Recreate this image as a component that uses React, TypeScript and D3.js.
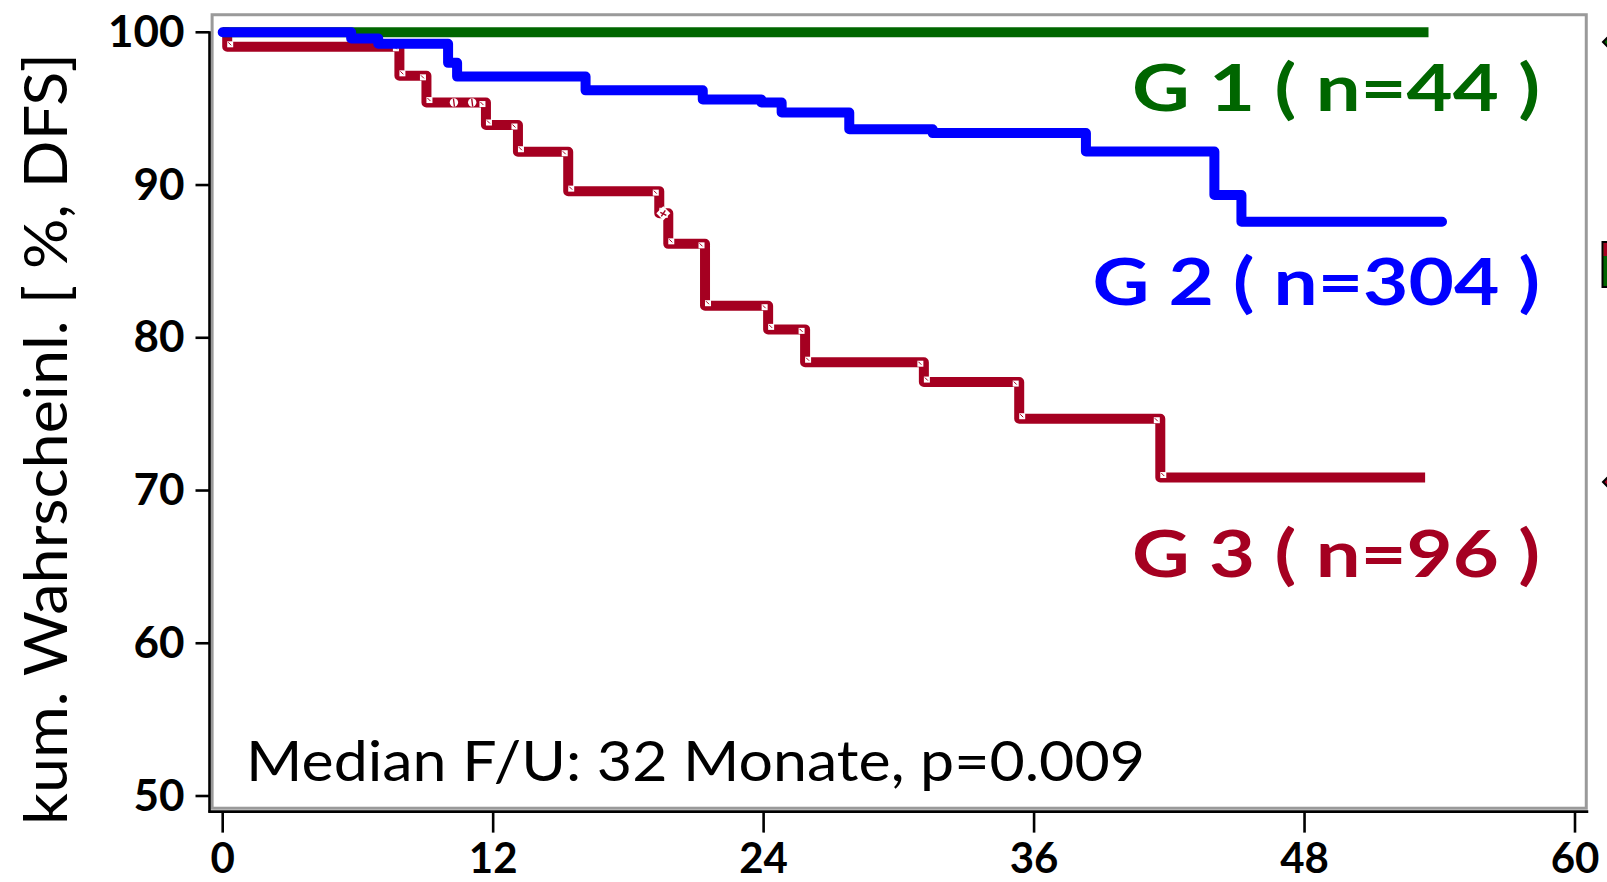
import React from 'react';
import * as d3 from 'd3';

const W = 1607;
const H = 882;

// Axis ticks
const yTickValues = [50, 60, 70, 80, 90, 100];
const xTickValues = [0, 12, 24, 36, 48, 60];

// Kaplan-Meier step data: event times (months) and survival (%) after each event
const g1Times = [0];
const g1Surv = [100];
const g1End = 53.5;

const g2Times = [0, 5.7, 6.9, 10.0, 10.4, 16.1, 21.3, 23.9, 24.8, 27.8, 31.5, 38.3, 44.0, 45.2];
const g2Surv = [100, 99.6, 99.25, 98.0, 97.1, 96.2, 95.6, 95.4, 94.75, 93.65, 93.4, 92.2, 89.35, 87.6];
const g2End = 54.1;

const g3Times = [0, 0.2, 7.84, 9.04, 11.68, 13.1, 15.33, 19.37, 19.77, 21.4, 24.2, 25.84, 31.11, 35.34, 41.6];
const g3Surv = [100, 99.05, 97.15, 95.4, 93.93, 92.18, 89.6, 88.15, 86.15, 82.1, 80.55, 78.4, 77.1, 74.7, 70.85];
const g3End = 53.35;

// Censored observations drawn on the G 3 curve
const g3CensorTimes = [10.26, 11.07];
const g3CensorSurv = [95.4, 95.4];
const g3DiamondTimes = [19.55];
const g3DiamondSurv = [88.15];

const groupLabels = ['G 1 ( n=44 )', 'G 2 ( n=304 )', 'G 3 ( n=96 )'];
const annotation = 'Median F/U: 32 Monate, p=0.009';
const yTitle = 'kum. Wahrscheinl. [ %, DFS]';

const GREEN = '#006600';
const BLUE = '#0000ff';
const RED = '#a50021';
const FONT = 'Lato, "Noto Sans", sans-serif';

const x = d3.scaleLinear().domain([0, 60]).range([222.7, 1575]);
const y = d3.scaleLinear().domain([50, 100]).range([796, 32.3]);

const stepLine = d3
  .line<[number, number]>()
  .x((d) => x(d[0]))
  .y((d) => y(d[1]))
  .curve(d3.curveStepAfter);

function stepPoints(times: number[], surv: number[], end: number): [number, number][] {
  const pts: [number, number][] = times.map((t, i) => [t, surv[i]]);
  pts.push([end, surv[surv.length - 1]]);
  return pts;
}

export default function App() {
  const frameX0 = x(-0.47);
  const frameX1 = x(60.5);
  const frameY0 = y(101.15);
  const frameY1 = y(49.2);
  const axisX = frameX0 - 2.6;
  const axisY = frameY1 + 3.4;

  // corner markers of the G 3 steps
  const cornerMarks: { cx: number; cy: number }[] = [];
  for (let i = 1; i < g3Times.length; i++) {
    const xs = x(g3Times[i]);
    cornerMarks.push({ cx: xs - 3.5, cy: y(g3Surv[i - 1]) + 1.5 });
    cornerMarks.push({ cx: xs + 3, cy: y(g3Surv[i]) - 2.5 });
  }

  return (
    <svg
      width={W}
      height={H}
      style={{ position: 'absolute', left: 0, top: 0, background: '#fff' }}
      fontFamily={FONT}
    >
      <rect x={0} y={0} width={W} height={H} fill="#fff" />

      {/* plot frame */}
      <rect
        x={frameX0}
        y={frameY0}
        width={frameX1 - frameX0}
        height={frameY1 - frameY0}
        fill="none"
        stroke="#9a9a9a"
        strokeWidth={3}
      />

      {/* y axis */}
      <line x1={axisX} x2={axisX} y1={y(100) - 1} y2={axisY + 1.2} stroke="#000" strokeWidth={2.6} />
      {yTickValues.map((v) => (
        <g key={'yt' + v}>
          <line x1={axisX - 14} x2={axisX} y1={y(v)} y2={y(v)} stroke="#000" strokeWidth={2.6} />
          <text
            x={axisX - 25}
            y={y(v) + 14.5}
            textAnchor="end"
            fontSize={44}
            fontWeight={700}
            fill="#000"
          >
            {v}
          </text>
        </g>
      ))}

      {/* x axis */}
      <line x1={axisX - 1} x2={frameX1 + 2} y1={axisY} y2={axisY} stroke="#000" strokeWidth={2.6} />
      {xTickValues.map((t) => (
        <g key={'xt' + t}>
          <line x1={x(t)} x2={x(t)} y1={axisY} y2={axisY + 21} stroke="#000" strokeWidth={2.6} />
          <text x={x(t)} y={873} textAnchor="middle" fontSize={42} fontWeight={700} fill="#000">
            {t}
          </text>
        </g>
      ))}

      {/* G 3 curve with censor marks */}
      <path
        d={stepLine(stepPoints(g3Times, g3Surv, g3End)) || ''}
        fill="none"
        stroke={RED}
        strokeWidth={10}
        strokeLinejoin="round"
        strokeLinecap="butt"
      />
      {cornerMarks.map((m, i) => (
        <g key={'cm' + i}>
          <rect x={m.cx - 3} y={m.cy - 3} width={6} height={6} fill="#fff" />
          <line x1={m.cx - 2} y1={m.cy - 2} x2={m.cx + 1} y2={m.cy + 1} stroke={RED} strokeWidth={1} />
        </g>
      ))}
      {g3CensorTimes.map((t, i) => (
        <g key={'cc' + i}>
          <circle cx={x(t)} cy={y(g3CensorSurv[i])} r={4.2} fill="#fff" />
          <line
            x1={x(t) - 0.5}
            x2={x(t) + 0.5}
            y1={y(g3CensorSurv[i]) - 4}
            y2={y(g3CensorSurv[i]) + 4}
            stroke={RED}
            strokeWidth={1.3}
          />
        </g>
      ))}
      {g3DiamondTimes.map((t, i) => {
        const cx = x(t);
        const cy = y(g3DiamondSurv[i]);
        return (
          <g key={'cd' + i}>
            <path
              d={`M${cx - 7},${cy} L${cx},${cy - 7} L${cx + 7},${cy} L${cx},${cy + 7} Z`}
              fill="#fff"
            />
            <path
              d={`M${cx - 3},${cy - 1} L${cx + 3},${cy + 2} M${cx - 2},${cy + 3} L${cx + 2},${cy - 3}`}
              stroke={RED}
              strokeWidth={1.4}
            />
          </g>
        );
      })}

      {/* G 1 curve */}
      <path
        d={stepLine(stepPoints(g1Times, g1Surv, g1End)) || ''}
        fill="none"
        stroke={GREEN}
        strokeWidth={10}
        strokeLinecap="butt"
      />

      {/* G 2 curve */}
      <path
        d={stepLine(stepPoints(g2Times, g2Surv, g2End)) || ''}
        fill="none"
        stroke={BLUE}
        strokeWidth={10}
        strokeLinejoin="round"
        strokeLinecap="round"
      />

      {/* group labels */}
      <text x={1132} y={110.5} fontSize={65} fontWeight={700} fill={GREEN} textLength={408} lengthAdjust="spacingAndGlyphs">
        {groupLabels[0]}
      </text>
      <text x={1092.5} y={305} fontSize={65} fontWeight={700} fill={BLUE} textLength={447.5} lengthAdjust="spacingAndGlyphs">
        {groupLabels[1]}
      </text>
      <text x={1132} y={577} fontSize={65} fontWeight={700} fill={RED} textLength={408} lengthAdjust="spacingAndGlyphs">
        {groupLabels[2]}
      </text>

      {/* annotation */}
      <text x={246} y={781} fontSize={57} fill="#000" textLength={899} lengthAdjust="spacingAndGlyphs">
        {annotation}
      </text>

      {/* y axis title */}
      <text
        transform="translate(67,825) rotate(-90)"
        fontSize={60}
        fill="#000"
        textLength={772}
        lengthAdjust="spacingAndGlyphs"
      >
        {yTitle}
      </text>

      {/* legend symbols cut off at the right edge */}
      <path d="M1603,42 L1612,33 L1621,42 L1612,51 Z" fill={GREEN} stroke="#000" strokeWidth={2} />
      <rect x={1602.5} y={242} width={12} height={45} fill={GREEN} stroke="#000" strokeWidth={2} />
      <rect x={1603.5} y={243} width={10} height={13} fill={RED} />
      <path d="M1603,482 L1612,473 L1621,482 L1612,491 Z" fill={RED} stroke="#000" strokeWidth={2} />
    </svg>
  );
}
